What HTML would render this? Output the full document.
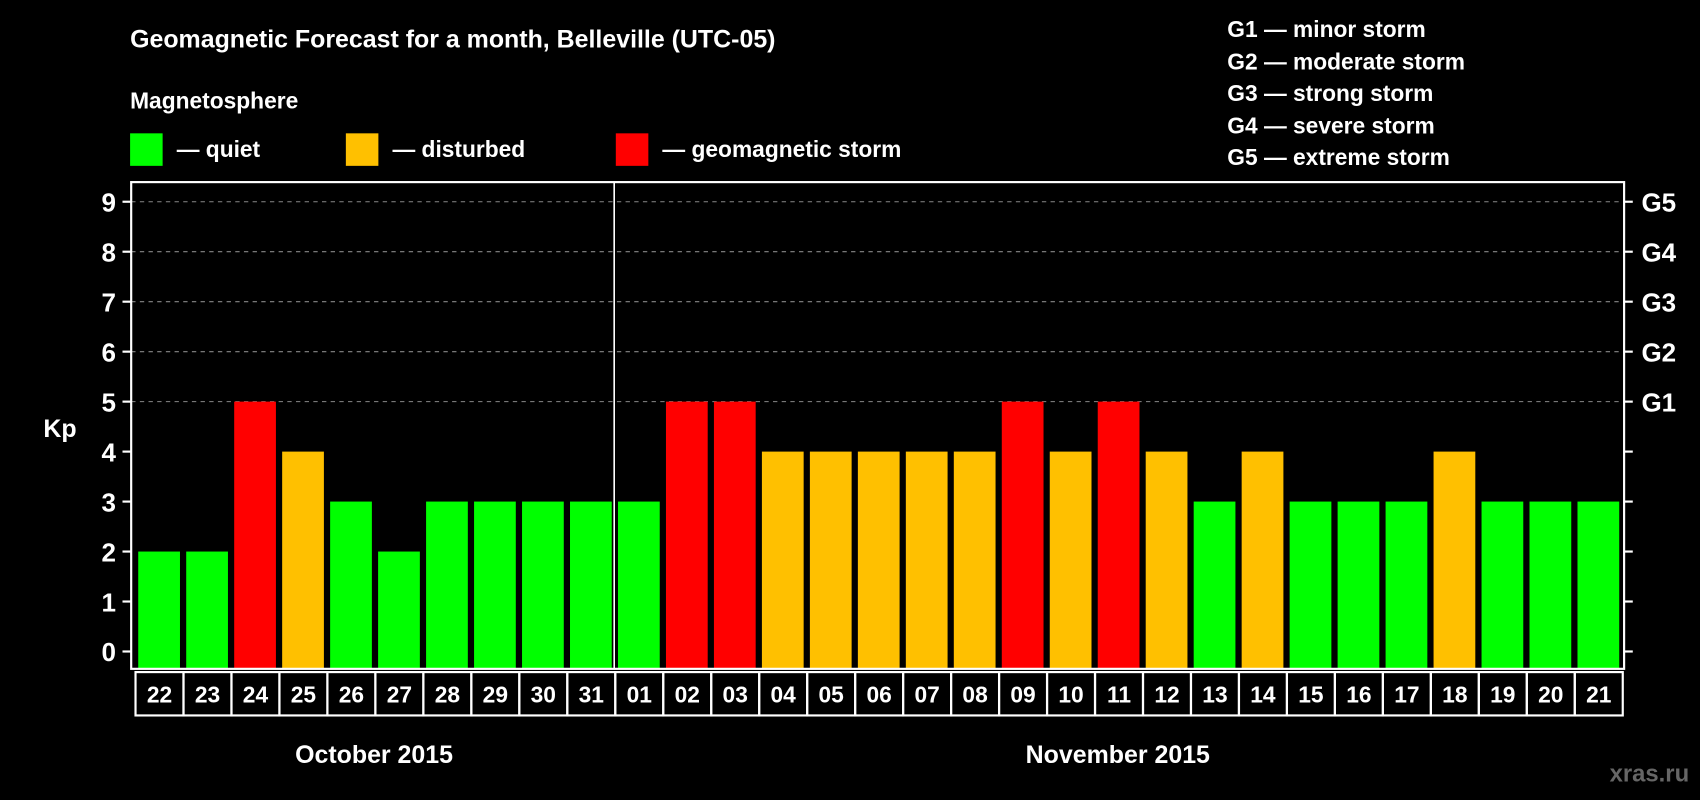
<!DOCTYPE html>
<html><head><meta charset="utf-8"><style>
html,body{margin:0;padding:0;background:#000;width:1700px;height:800px;overflow:hidden}
svg{display:block;font-family:"Liberation Sans",Arial,sans-serif;font-weight:bold}
</style></head><body>
<svg id="chart" width="1700" height="800" viewBox="0 0 1568 738" preserveAspectRatio="none">
<rect width="1568" height="738" fill="#000"/>
<text x="120" y="44" fill="#fff" font-size="23">Geomagnetic Forecast for a month, Belleville (UTC-05)</text>
<text x="120" y="100" fill="#fff" font-size="21">Magnetosphere</text>
<g><rect x="120" y="123" width="30" height="30" fill="#00ff00"/><text x="163" y="145" fill="#fff" font-size="21">— quiet</text></g>
<g><rect x="319" y="123" width="30" height="30" fill="#ffc000"/><text x="362" y="145" fill="#fff" font-size="21">— disturbed</text></g>
<g><rect x="568" y="123" width="30" height="30" fill="#ff0000"/><text x="611" y="145" fill="#fff" font-size="21">— geomagnetic storm</text></g>
<g fill="#fff" font-size="21">
<text x="1132" y="34">G1 — minor storm</text>
<text x="1132" y="64">G2 — moderate storm</text>
<text x="1132" y="93">G3 — strong storm</text>
<text x="1132" y="123">G4 — severe storm</text>
<text x="1132" y="152">G5 — extreme storm</text>
</g>
<text x="40" y="403" fill="#fff" font-size="23">Kp</text>
<g id="grid"></g>
<g id="bars"></g>
<g id="axes"></g>
<g id="dates"></g>
<text x="345" y="704" fill="#fff" font-size="23" text-anchor="middle">October 2015</text>
<text x="1031" y="704" fill="#fff" font-size="23" text-anchor="middle">November 2015</text>
<text x="1558" y="721" fill="#666" font-size="22" text-anchor="end">xras.ru</text>
</svg>
<script>
const days=["22","23","24","25","26","27","28","29","30","31","01","02","03","04","05","06","07","08","09","10","11","12","13","14","15","16","17","18","19","20","21"];
const kpValues=[2,2,5,4,3,2,3,3,3,3,3,5,5,4,4,4,4,4,5,4,5,4,3,4,3,3,3,4,3,3,3];
const yTicks=[0,1,2,3,4,5,6,7,8,9];
const gLabels=["G1","G2","G3","G4","G5"];
const NS="http://www.w3.org/2000/svg";
const X0=125,PITCH=44.25,BW=38.5,Y0=601,UNIT=46.1,FL=121,FR=1498,FT=168,FB=617;
function x(i){return X0+i*PITCH;}
function y(v){return Y0-v*UNIT;}
function mk(tag,attrs,parent){const e=document.createElementNS(NS,tag);for(const k in attrs)e.setAttribute(k,attrs[k]);parent.appendChild(e);return e;}
const grid=document.getElementById('grid'),bars=document.getElementById('bars'),axes=document.getElementById('axes'),dates=document.getElementById('dates');
yTicks.forEach(v=>{
  if(v>=5){const l=mk('line',{x1:FL,x2:FR,y1:y(v),y2:y(v),stroke:'#888','stroke-width':1,'stroke-dasharray':'4,4'},grid);
  
  }
  const t=mk('line',{x1:FL-8,x2:FL,y1:y(v),y2:y(v),stroke:'#fff','stroke-width':2},axes);
  
  
  const rt=mk('line',{x1:FR,x2:FR+8,y1:y(v),y2:y(v),stroke:'#fff','stroke-width':2},axes);
  
  
  const tl=mk('text',{x:FL-14,y:y(v)+9,fill:'#fff','font-size':24,'text-anchor':'end'},axes);
  tl.textContent=v;
  
  
  if(v>=5){const g=mk('text',{x:FR+16,y:y(v)+9,fill:'#fff','font-size':24},axes);
  g.textContent=gLabels[v-5];
  
  }
});
kpValues.forEach((v,i)=>{
  const c=v>=5?'#ff0000':(v===4?'#ffc000':'#00ff00');
  const r=mk('rect',{x:x(i)+2.5,y:y(v),width:BW,height:FB-y(v),fill:c},bars);
  
  
  const b=mk('rect',{x:x(i),y:620,width:PITCH,height:40,fill:'none',stroke:'#fff','stroke-width':2},dates);
  
  
  const t=mk('text',{x:x(i)+PITCH/2,y:648,fill:'#fff','font-size':21,'text-anchor':'middle'},dates);
  t.textContent=days[i];
  
  
});
const f=mk('rect',{x:FL,y:FT,width:FR-FL,height:FB-FT,fill:'none',stroke:'#fff','stroke-width':2},axes);


const sep=mk('line',{x1:x(10)-1,x2:x(10)-1,y1:FT,y2:FB,stroke:'#fff','stroke-width':1.5},axes);


</script>
</body></html>
